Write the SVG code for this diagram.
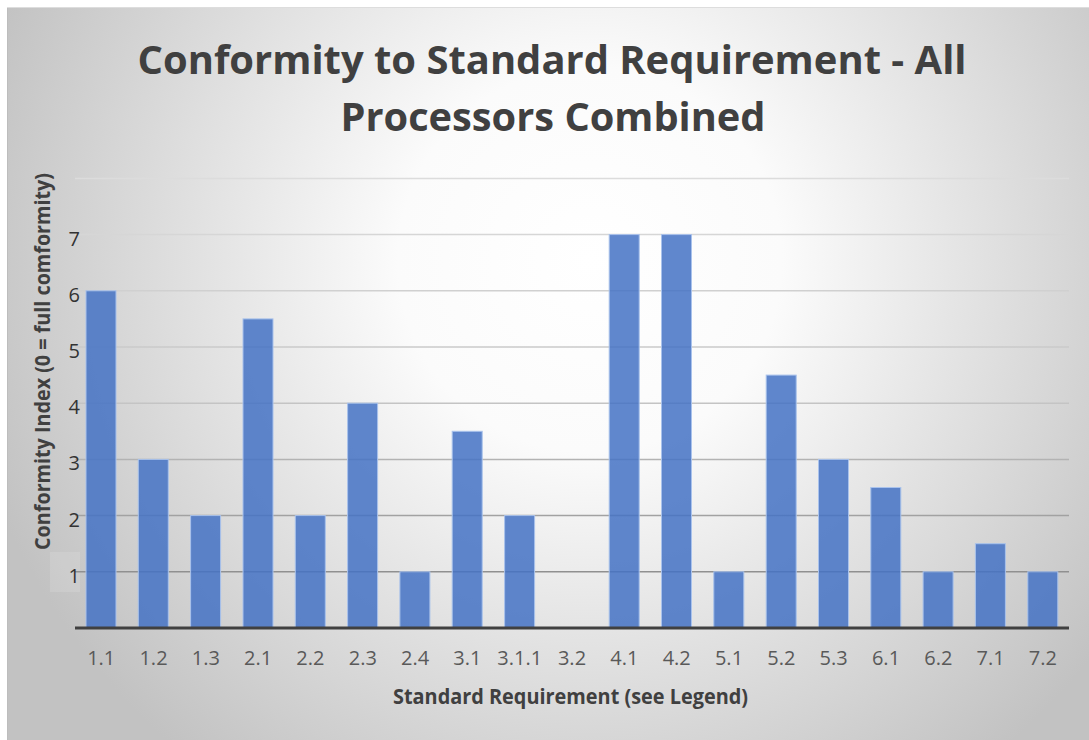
<svg xmlns="http://www.w3.org/2000/svg" width="1089" height="740" viewBox="0 0 1089 740">
  <defs>
    <radialGradient id="bg" gradientUnits="userSpaceOnUse" cx="590" cy="260" r="640">
      <stop offset="0" stop-color="#ffffff"/>
      <stop offset="0.3" stop-color="#fbfbfb"/>
      <stop offset="1" stop-color="#c2c2c2"/>
    </radialGradient>
    <linearGradient id="gridg" gradientUnits="userSpaceOnUse" x1="0" y1="178" x2="0" y2="628">
      <stop offset="0" stop-color="#dcdcdc"/>
      <stop offset="0.5" stop-color="#c4c4c4"/>
      <stop offset="1" stop-color="#7f7f7f"/>
    </linearGradient>
    <style>
      .bar { fill: #4472c4; fill-opacity: 0.85; stroke: #a9c2ec; stroke-width: 1; }
      .grid { stroke: url(#gridg); stroke-width: 1.5; fill: none; }
      .xt { font-family: "Open Sans", "Liberation Sans", sans-serif; font-size: 20px; fill: #595959; text-anchor: middle; }
      .yt { font-family: "Open Sans", "Liberation Sans", sans-serif; font-size: 20px; fill: #333333; text-anchor: end; }
      .title { font-family: "Open Sans", "Liberation Sans", sans-serif; font-weight: bold; font-size: 40px; fill: #404040; text-anchor: middle; }
      .atitle { font-family: "Open Sans", "Liberation Sans", sans-serif; font-weight: bold; font-size: 21px; fill: #404040; text-anchor: middle; }
    </style>
  </defs>

  <rect x="0" y="0" width="1089" height="740" fill="#ffffff"/>
  <rect x="7" y="7" width="1082" height="733" fill="url(#bg)"/>
  <line x1="7.5" y1="7" x2="7.5" y2="740" stroke="#bdbdbd" stroke-width="1"/>
  <line x1="7" y1="7.5" x2="1089" y2="7.5" stroke="#dddddd" stroke-width="1"/>
  <rect x="50" y="552" width="30" height="40" fill="#ffffff" fill-opacity="0.12"/>

  <g id="title">
    <text class="title" x="552" y="74" textLength="829" lengthAdjust="spacingAndGlyphs">Conformity to Standard Requirement - All</text>
    <text class="title" x="553" y="131" textLength="425" lengthAdjust="spacingAndGlyphs">Processors Combined</text>
  </g>

  <g id="gridlines" class="grid">
    <line x1="75" y1="178.4" x2="1069" y2="178.4"/>
    <line x1="75" y1="234.6" x2="1069" y2="234.6"/>
    <line x1="75" y1="290.8" x2="1069" y2="290.8"/>
    <line x1="75" y1="347" x2="1069" y2="347"/>
    <line x1="75" y1="403.2" x2="1069" y2="403.2"/>
    <line x1="75" y1="459.4" x2="1069" y2="459.4"/>
    <line x1="75" y1="515.6" x2="1069" y2="515.6"/>
    <line x1="75" y1="571.8" x2="1069" y2="571.8"/>
  </g>

  <g id="y-labels">
    <text class="yt" x="80" y="245.5">7</text>
    <text class="yt" x="80" y="301.7">6</text>
    <text class="yt" x="80" y="357.9">5</text>
    <text class="yt" x="80" y="414.1">4</text>
    <text class="yt" x="80" y="470.3">3</text>
    <text class="yt" x="80" y="526.5">2</text>
    <text class="yt" x="80" y="582.7">1</text>
  </g>

  <g id="bars">
    <rect id="bar-1.1" class="bar" x="86" y="290.8" width="30" height="337.2"/>
    <rect id="bar-1.2" class="bar" x="138.3" y="459.4" width="30" height="168.6"/>
    <rect id="bar-1.3" class="bar" x="190.6" y="515.6" width="30" height="112.4"/>
    <rect id="bar-2.1" class="bar" x="243" y="318.9" width="30" height="309.1"/>
    <rect id="bar-2.2" class="bar" x="295.3" y="515.6" width="30" height="112.4"/>
    <rect id="bar-2.3" class="bar" x="347.6" y="403.2" width="30" height="224.8"/>
    <rect id="bar-2.4" class="bar" x="399.9" y="571.8" width="30" height="56.2"/>
    <rect id="bar-3.1" class="bar" x="452.2" y="431.3" width="30" height="196.7"/>
    <rect id="bar-3.1.1" class="bar" x="504.6" y="515.6" width="30" height="112.4"/>
    <rect id="bar-4.1" class="bar" x="609.2" y="234.6" width="30" height="393.4"/>
    <rect id="bar-4.2" class="bar" x="661.5" y="234.6" width="30" height="393.4"/>
    <rect id="bar-5.1" class="bar" x="713.8" y="571.8" width="30" height="56.2"/>
    <rect id="bar-5.2" class="bar" x="766.2" y="375.1" width="30" height="252.9"/>
    <rect id="bar-5.3" class="bar" x="818.5" y="459.4" width="30" height="168.6"/>
    <rect id="bar-6.1" class="bar" x="870.8" y="487.5" width="30" height="140.5"/>
    <rect id="bar-6.2" class="bar" x="923.1" y="571.8" width="30" height="56.2"/>
    <rect id="bar-7.1" class="bar" x="975.4" y="543.7" width="30" height="84.3"/>
    <rect id="bar-7.2" class="bar" x="1027.8" y="571.8" width="30" height="56.2"/>
  </g>

  <g id="axis">
    <line x1="75" y1="628" x2="1069" y2="628" stroke="#404040" stroke-width="3"/>
  </g>

  <g id="x-labels">
    <text class="xt" x="101.2" y="665">1.1</text>
    <text class="xt" x="153.5" y="665">1.2</text>
    <text class="xt" x="205.8" y="665">1.3</text>
    <text class="xt" x="258.1" y="665">2.1</text>
    <text class="xt" x="310.4" y="665">2.2</text>
    <text class="xt" x="362.8" y="665">2.3</text>
    <text class="xt" x="415.1" y="665">2.4</text>
    <text class="xt" x="467.4" y="665">3.1</text>
    <text class="xt" x="519.7" y="665">3.1.1</text>
    <text class="xt" x="572" y="665">3.2</text>
    <text class="xt" x="624.4" y="665">4.1</text>
    <text class="xt" x="676.7" y="665">4.2</text>
    <text class="xt" x="729" y="665">5.1</text>
    <text class="xt" x="781.3" y="665">5.2</text>
    <text class="xt" x="833.6" y="665">5.3</text>
    <text class="xt" x="886" y="665">6.1</text>
    <text class="xt" x="938.3" y="665">6.2</text>
    <text class="xt" x="990.6" y="665">7.1</text>
    <text class="xt" x="1042.9" y="665">7.2</text>
  </g>

  <g id="axis-titles">
    <text class="atitle" x="570.5" y="704" textLength="355" lengthAdjust="spacingAndGlyphs">Standard Requirement (see Legend)</text>
    <text class="atitle" transform="translate(50,361.5) rotate(-90)" x="0" y="0" textLength="377" lengthAdjust="spacingAndGlyphs">Conformity Index (0 = full comformity)</text>
  </g>
</svg>
